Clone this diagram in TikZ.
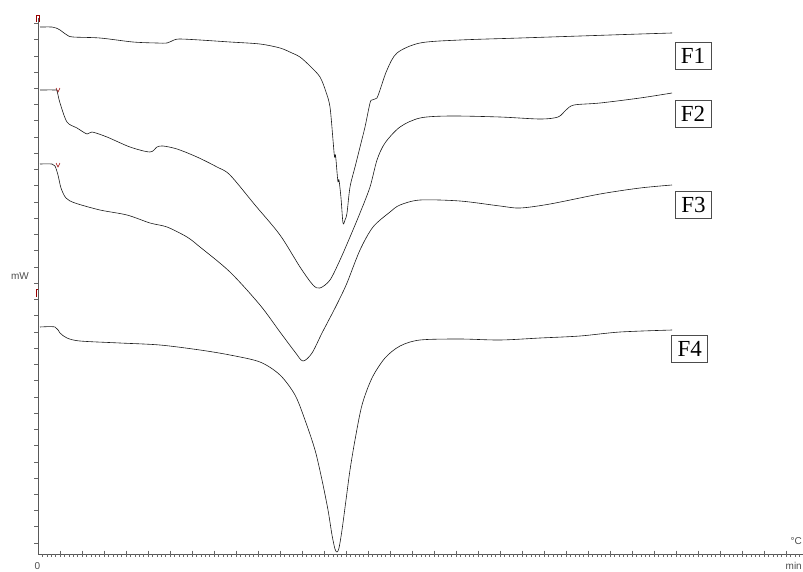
\documentclass[tikz,border=0pt]{standalone}
\usepackage{fontspec}
\setmainfont{Liberation Serif}
\newfontfamily\axisfont{Liberation Sans}
\usetikzlibrary{positioning}

\begin{document}
\begin{tikzpicture}[x=1pt, y=-1pt,
    axis/.style={draw=black!65, line width=0.9pt},
    tick/.style={draw=black!60, line width=0.5pt},
    curve/.style={draw=black!90, line width=0.6pt, line join=round},
    marker/.style={draw=red!60!black, line width=0.5pt},
    tag/.style={rectangle, draw=black!70, line width=0.5pt, fill=white, minimum width=36pt, minimum height=27pt, inner sep=0pt, font=\fontsize{23}{23}\selectfont},
    unit/.style={text=black!70, inner sep=0pt, font=\axisfont\fontsize{10}{10}\selectfont}
]
    \useasboundingbox (0,0) rectangle (803,571);

    % axes
    \draw[axis] (38,18) -- (38,554) -- (803,554);
    \foreach \i in {0,...,32}
        \draw[tick] (34,{23.3+16.24*\i}) -- (38,{23.3+16.24*\i});
    \foreach \i in {1,...,174}
        \draw[tick] ({38+4.4*\i},554) -- ({38+4.4*\i},556.5);
    \foreach \i in {1,...,34}
        \draw[tick] ({38+22*\i},550.5) -- ({38+22*\i},556.5);

    \node[unit] (mw) at (20,276) {mW};
    \node[unit] (zero) at (37.5,566) {0};
    \node[unit, anchor=east] (degc) at (802,541) {°C};
    \node[unit, anchor=east] (mins) at (802,566) {min};

    % small red markers
    \draw[marker] (36,22) -- (36,15) -- (39,15) -- (39,22);
    \draw[marker] (36,297) -- (36,289) -- (38,289);
    \draw[marker] (56,88) -- (58,92) -- (60,88);
    \draw[marker] (56,163) -- (58,167) -- (60,163);

    % F1
    \draw[curve] plot[smooth, tension=0.5] coordinates {
        (40,27) (52,27) (56,28) (60,30) (67,35) (73,37) (100,38) (133,42)
        (157,43) (167,43) (174,40) (180,39) (200,40) (230,42) (260,44)
        (280,48) (292,53) (300,57) (310,66) (320,77) (326,92) (330,107)
        (333,140) (334.5,157) (335.5,155) (337,172) (338,182) (339,180) (341,198)
        (343,223) (345,220) (347,213) (350,187) (355,167) (360,147) (365,127)
        (370,103) (372,100) (375,99) (377,98) (380,90) (387,70) (397,53)
        (420,43) (460,40) (520,38) (580,36) (640,34) (672,33)};

    % F2
    \draw[curve] plot[smooth, tension=0.5] coordinates {
        (40,90) (55,90) (57,91) (60,103) (67,122) (77,128) (87,134) (92,132)
        (107,137) (130,147) (150,152) (157,147) (163,146) (177,149) (197,157)
        (217,167) (230,175) (255,205) (280,235) (300,267) (313,285) (320,288)
        (330,280) (340,260) (350,237) (360,213) (370,187) (377,160) (385,143)
        (400,127) (420,118) (450,116) (500,117) (540,119) (558,117) (566,110)
        (574,105) (600,103) (640,98) (672,93)};

    % F3
    \draw[curve] plot[smooth, tension=0.5] coordinates {
        (40,164) (52,164) (55,166) (58,175) (61,188) (66,198) (75,203)
        (100,210) (127,215) (150,223) (167,227) (187,237) (200,247) (230,272)
        (260,305) (280,332) (295,352) (303,361) (312,353) (322,333) (333,312)
        (340,298) (347,283) (360,250) (373,227) (390,212) (400,205) (420,200)
        (460,201) (500,206) (520,208) (550,204) (600,194) (640,188) (672,185)};

    % F4
    \draw[curve] plot[smooth, tension=0.5] coordinates {
        (40,327) (55,327) (60,333) (67,338) (80,341) (120,343) (160,345)
        (200,350) (230,355) (260,362) (280,375) (295,395) (305,420) (315,450)
        (322,480) (328,510) (332,535) (335,549) (337,552) (339,548) (342,530)
        (346,500) (350,470) (355,440) (362,405) (372,378) (385,358) (400,346)
        (420,340) (460,339) (500,340) (540,338) (580,336) (620,332) (672,330)};

    % curve labels
    \node[tag] (f1) at (693,55.5) {F1};
    \node[tag] (f2) at (693,114) {F2};
    \node[tag] (f3) at (693.5,205) {F3};
    \node[tag] (f4) at (689.7,349) {F4};
\end{tikzpicture}
\end{document}
